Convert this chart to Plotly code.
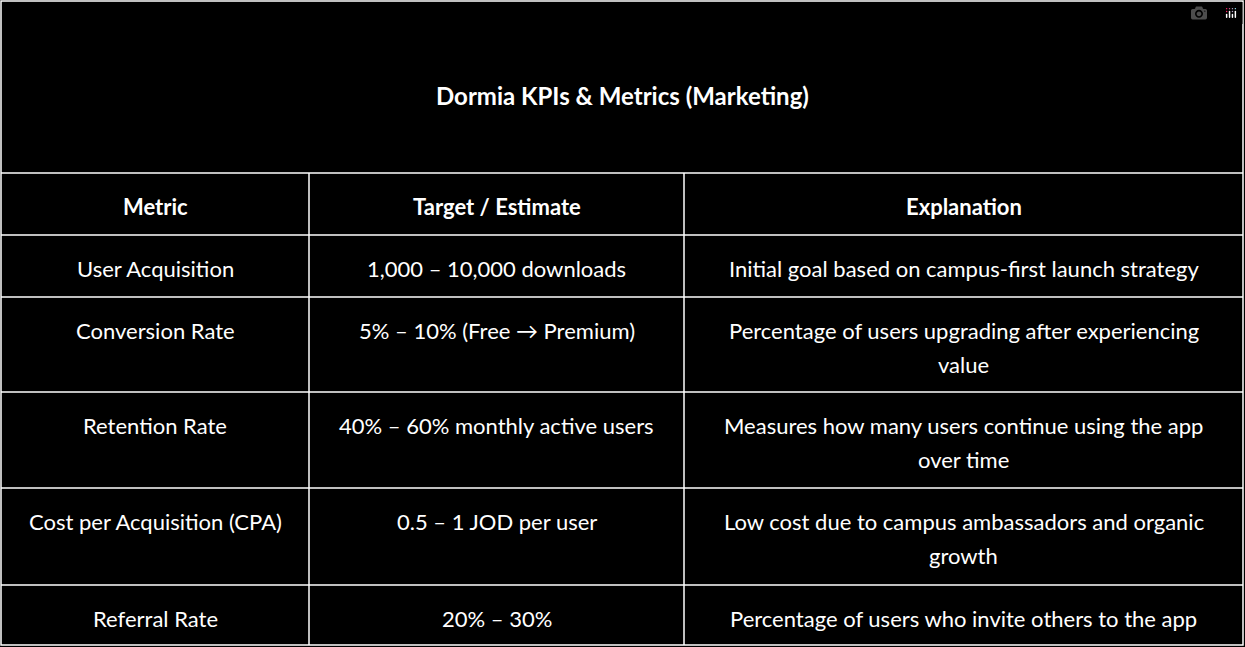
import plotly.graph_objects as go

title = "<b>Dormia KPIs & Metrics (Marketing)</b>"
headers = ["Metric", "Target / Estimate", "Explanation"]
metrics = ["User Acquisition", "Conversion Rate", "Retention Rate",
           "Cost per Acquisition (CPA)", "Referral Rate"]
targets = ["1,000 – 10,000 downloads", "5% – 10% (Free → Premium)",
           "40% – 60% monthly active users", "0.5 – 1 JOD per user", "20% – 30%"]
explanations = ["Initial goal based on campus-first launch strategy",
                "Percentage of users upgrading after experiencing<br>value",
                "Measures how many users continue using the app<br>over time",
                "Low cost due to campus ambassadors and organic<br>growth",
                "Percentage of users who invite others to the app"]

# grid geometry in pixels
col_edges = [1, 309, 684, 1243]
row_edges = [173, 235, 297, 392, 488, 585, 645]
W, H = 1245, 647

fig = go.Figure()
line = dict(color="white", width=1.5)

fig.add_shape(type="rect", x0=1, x1=1243, y0=1, y1=645, line=line)
for y in row_edges[:-1]:
    fig.add_shape(type="line", x0=1, x1=1243, y0=y, y1=y, line=line)
for x in col_edges[1:-1]:
    fig.add_shape(type="line", x0=x, x1=x, y0=row_edges[0], y1=645, line=line)

font = dict(family="Lato, sans-serif", size=22, color="white")
fig.add_annotation(x=622, y=95, text=title, showarrow=False,
                   font=dict(family="Lato, sans-serif", size=24, color="white"))

rows = [["<b>%s</b>" % h for h in headers]] + [list(r) for r in zip(metrics, targets, explanations)]
for i, row in enumerate(rows):
    for j, txt in enumerate(row):
        xc = (col_edges[j] + col_edges[j + 1]) / 2
        for k, part in enumerate(txt.split("<br>")):
            fig.add_annotation(x=xc, y=row_edges[i] + 33 + k * 34, text=part,
                               showarrow=False, font=font)

fig.update_xaxes(range=[0, W], visible=False, fixedrange=True)
fig.update_yaxes(range=[H, 0], visible=False, fixedrange=True)
fig.update_layout(width=W, height=H, margin=dict(l=0, r=0, t=0, b=0),
                  paper_bgcolor="black", plot_bgcolor="black", showlegend=False)
fig.write_html("out.html", post_script="document.body.style.margin='0';document.body.style.background='black';")
